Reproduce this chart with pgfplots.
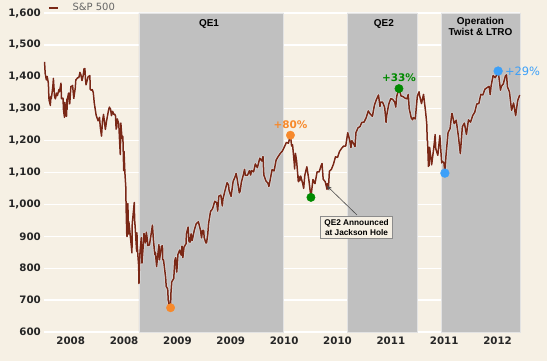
\documentclass[border=0pt]{standalone}
\usepackage{fontspec}
\setmainfont{DejaVu Sans}
\newfontfamily\lib{Liberation Sans}
\usepackage{pgfplots}
\usepackage{pgfplotstable}
\pgfplotsset{compat=1.18}
\usetikzlibrary{arrows.meta}
\definecolor{bg}{HTML}{F6F0E4}
\definecolor{shade}{HTML}{C0C0C0}
\definecolor{spx}{HTML}{7A2816}
\definecolor{qorange}{HTML}{F7892B}
\definecolor{qgreen}{HTML}{008A00}
\definecolor{qblue}{HTML}{3DA0F8}
\pgfplotstableread{
t v
2008.005 1447
2008.011 1411
2008.022 1390
2008.030 1401
2008.041 1380
2008.046 1333
2008.049 1325
2008.060 1310
2008.063 1338
2008.068 1331
2008.077 1353
2008.085 1378
2008.088 1395
2008.099 1337
2008.107 1331
2008.118 1349
2008.126 1341
2008.140 1360
2008.145 1353
2008.159 1380
2008.164 1331
2008.178 1333
2008.183 1294
2008.192 1273
2008.195 1320
2008.203 1288
2008.211 1276
2008.214 1330
2008.217 1298
2008.219 1330
2008.230 1349
2008.241 1315
2008.252 1370
2008.260 1370
2008.268 1373
2008.279 1332
2008.293 1365
2008.298 1390
2008.318 1398
2008.326 1397
2008.337 1414
2008.345 1407
2008.356 1388
2008.367 1404
2008.375 1425
2008.383 1426
2008.389 1390
2008.394 1375
2008.413 1400
2008.430 1404
2008.433 1361
2008.443 1358
2008.452 1360
2008.462 1350
2008.471 1318
2008.487 1283
2008.490 1278
2008.507 1262
2008.520 1273
2008.528 1240
2008.539 1214
2008.548 1261
2008.558 1282
2008.567 1257
2008.575 1235
2008.586 1261
2008.605 1296
2008.613 1305
2008.624 1298
2008.632 1278
2008.643 1292
2008.654 1282
2008.663 1283
2008.670 1277
2008.676 1236
2008.682 1242
2008.687 1268
2008.701 1252
2008.709 1193
2008.715 1156
2008.720 1255
2008.731 1207
2008.739 1213
2008.747 1106
2008.750 1166
2008.758 1099
2008.766 1056
2008.769 997
2008.775 910
2008.778 899
2008.786 1003
2008.791 907
2008.794 946
2008.797 940
2008.810 896
2008.816 877
2008.824 848
2008.827 941
2008.835 968
2008.846 1006
2008.849 953
2008.854 930
2008.868 853
2008.871 911
2008.873 873
2008.887 806
2008.890 752
2008.893 800
2008.900 852
2008.912 896
2008.918 816
2008.931 876
2008.937 909
2008.950 879
2008.959 913
2008.969 887
2008.972 871
2008.988 873
2009.002 903
2009.016 935
2009.025 890
2009.038 843
2009.044 850
2009.055 805
2009.063 832
2009.077 874
2009.082 826
2009.101 869
2009.110 870
2009.112 827
2009.120 826
2009.140 770
2009.145 743
2009.159 735
2009.164 700
2009.175 682
2009.178 683
2009.186 677
2009.189 720
2009.197 757
2009.216 768
2009.225 823
2009.233 833
2009.244 788
2009.255 843
2009.271 857
2009.285 841
2009.293 869
2009.301 833
2009.312 866
2009.331 877
2009.334 907
2009.350 929
2009.359 883
2009.370 882
2009.378 908
2009.389 887
2009.408 919
2009.427 940
2009.444 944
2009.446 946
2009.465 921
2009.476 895
2009.485 918
2009.496 919
2009.501 896
2009.517 879
2009.523 879
2009.534 905
2009.542 940
2009.561 979
2009.570 982
2009.580 987
2009.600 1010
2009.619 1005
2009.627 979
2009.638 1026
2009.649 1028
2009.657 1029
2009.671 995
2009.676 1016
2009.695 1042
2009.715 1068
2009.729 1061
2009.734 1044
2009.753 1025
2009.772 1072
2009.791 1087
2009.800 1097
2009.810 1080
2009.830 1036
2009.838 1042
2009.849 1069
2009.868 1093
2009.879 1110
2009.887 1091
2009.906 1091
2009.925 1106
2009.936 1092
2009.945 1106
2009.964 1102
2009.980 1127
2009.999 1115
2010.022 1145
2010.041 1136
2010.052 1150
2010.060 1092
2010.079 1074
2010.099 1066
2010.107 1056
2010.118 1075
2010.137 1109
2010.156 1105
2010.175 1139
2010.194 1150
2010.214 1160
2010.233 1167
2010.249 1178
2010.271 1194
2010.290 1192
2010.309 1217
2010.320 1183
2010.329 1187
2010.345 1128
2010.348 1111
2010.356 1160
2010.367 1136
2010.383 1071
2010.386 1088
2010.397 1074
2010.405 1089
2010.424 1065
2010.433 1050
2010.444 1092
2010.463 1118
2010.482 1076
2010.501 1022
2010.520 1078
2010.539 1065
2010.559 1102
2010.578 1102
2010.597 1122
2010.605 1128
2010.616 1079
2010.635 1071
2010.652 1047
2010.654 1065
2010.665 1049
2010.674 1104
2010.693 1110
2010.712 1126
2010.731 1149
2010.750 1147
2010.769 1166
2010.789 1176
2010.808 1183
2010.827 1183
2010.846 1225
2010.865 1200
2010.876 1178
2010.884 1200
2010.903 1189
2010.914 1181
2010.923 1225
2010.942 1240
2010.961 1244
2010.977 1257
2010.999 1258
2011.019 1272
2011.038 1293
2011.057 1283
2011.077 1276
2011.096 1311
2011.115 1329
2011.134 1343
2011.148 1307
2011.153 1320
2011.172 1321
2011.192 1304
2011.205 1257
2011.211 1279
2011.230 1314
2011.249 1332
2011.268 1329
2011.287 1320
2011.296 1305
2011.304 1338
2011.326 1364
2011.345 1340
2011.364 1338
2011.383 1333
2011.402 1331
2011.413 1345
2011.422 1300
2011.441 1271
2011.454 1265
2011.460 1272
2011.479 1268
2011.498 1340
2011.515 1353
2011.517 1344
2011.537 1316
2011.556 1345
2011.575 1292
2011.586 1254
2011.591 1200
2011.594 1199
2011.602 1119
2011.605 1172
2011.608 1121
2011.613 1179
2011.632 1124
2011.652 1177
2011.665 1219
2011.671 1174
2011.690 1154
2011.709 1216
2011.726 1130
2011.728 1136
2011.747 1131
2011.756 1099
2011.767 1155
2011.786 1225
2011.805 1238
2011.821 1285
2011.824 1285
2011.843 1253
2011.862 1264
2011.882 1216
2011.901 1159
2011.920 1244
2011.939 1255
2011.958 1219
2011.977 1265
2011.997 1258
2012.016 1278
2012.036 1289
2012.055 1315
2012.074 1316
2012.093 1345
2012.112 1343
2012.131 1361
2012.151 1366
2012.170 1370
2012.181 1344
2012.189 1371
2012.208 1404
2012.227 1397
2012.246 1408
2012.255 1419
2012.263 1398
2012.277 1358
2012.285 1370
2012.304 1378
2012.323 1403
2012.334 1406
2012.342 1369
2012.361 1353
2012.381 1295
2012.400 1318
2012.419 1278
2012.438 1325
2012.457 1343
}\spdata
\begin{document}
\begin{tikzpicture}
\fill[bg] (-44bp,-29bp) rectangle (503bp,332bp);
\begin{axis}[
  at={(0,0)}, anchor=south west,
  scale only axis, width=476bp, height=319bp,
  xmin=2008.0, xmax=2012.46, ymin=600, ymax=1600,
  axis line style={draw=none},
  major tick length=0pt,
  tick style={draw=none},
  ytick={600,700,800,900,1000,1100,1200,1300,1400,1500,1600},
  xtick={2008.25,2008.75,2009.25,2009.75,2010.25,2010.75,2011.25,2011.75,2012.25},
  xticklabels={2008,2008,2009,2009,2010,2010,2011,2011,2012},
  ymajorgrids, grid style={white, line width=1.3bp},
  /pgf/number format/assume math mode=true,
  /pgf/number format/1000 sep={,},
  ticklabel style={font=\bfseries\fontsize{10.3}{12}\selectfont, text=black!85},
  yticklabel style={inner sep=0pt, xshift=-3bp},
  xticklabel style={inner sep=0pt, yshift=-5bp},
  clip=false,
  legend style={at={(rel axis cs:0,1)}, anchor=west, xshift=4bp, yshift=5bp,
    draw=none, fill=none, inner sep=0pt,
    font=\fontsize{10}{12}\selectfont, text=black!60,
    nodes={inner sep=0pt},
    /tikz/every odd column/.append style={column sep=14bp}},
  legend cell align=left,
  legend image code/.code={\draw[spx, line width=1.4bp] (0bp,0bp) -- (9bp,0bp);},
]
\addplot[fill=shade, draw=white!55!shade, line width=0.7bp, forget plot] coordinates {(2008.89,600) (2008.89,1600) (2010.245,1600) (2010.245,600) (2008.89,600)};
\addplot[fill=shade, draw=white!55!shade, line width=0.7bp, forget plot] coordinates {(2010.84,600) (2010.84,1600) (2011.495,1600) (2011.495,600) (2010.84,600)};
\addplot[fill=shade, draw=white!55!shade, line width=0.7bp, forget plot] coordinates {(2011.72,600) (2011.72,1600) (2012.46,1600) (2012.46,600) (2011.72,600)};
\addplot[white, opacity=0.45, line width=2.9bp, line join=round, forget plot] table[x=t, y=v] {\spdata};
\addplot[spx, line width=1.5bp, line join=round] table[x=t, y=v] {\spdata};
\addlegendentry{S\&P 500}
\addplot[only marks, mark=*, mark size=4.2bp, qorange, forget plot] coordinates {(2009.186,676) (2010.309,1217)};
\addplot[only marks, mark=*, mark size=4.2bp, qgreen, forget plot] coordinates {(2010.501,1022) (2011.326,1363)};
\addplot[only marks, mark=*, mark size=4.4bp, qblue, forget plot] coordinates {(2011.756,1098) (2012.255,1418)};
\node[font=\lib\bfseries\fontsize{10}{11}\selectfont] at (axis cs:2009.546,1566) {QE1};
\node[font=\lib\bfseries\fontsize{10}{11}\selectfont] at (axis cs:2011.185,1566) {QE2};
\node[font=\lib\bfseries\fontsize{10}{11}\selectfont, align=center] at (axis cs:2012.09,1557) {Operation\\Twist \& LTRO};
\node[font=\bfseries\fontsize{10.5}{12}\selectfont, text=qorange] at (axis cs:2010.31,1250) {+80\%};
\node[font=\bfseries\fontsize{10.5}{12}\selectfont, text=qgreen] at (axis cs:2011.326,1398) {+33\%};
\node[font=\fontsize{11.5}{12}\selectfont, text=qblue, anchor=west, inner sep=0pt] at (axis cs:2012.318,1418) {+29\%};
\draw[-{Stealth[length=5bp,width=4bp]}, black!70, line width=0.6bp] (axis cs:2010.932,967) -- (axis cs:2010.651,1058);
\node[font=\lib\bfseries\fontsize{8.3}{10.5}\selectfont, align=center, draw=black!45, fill=bg, line width=0.8bp, inner xsep=4bp, inner ysep=2.5bp] at (axis cs:2010.928,927.6) {QE2 Announced\\at Jackson Hole};
\end{axis}
\end{tikzpicture}
\end{document}
